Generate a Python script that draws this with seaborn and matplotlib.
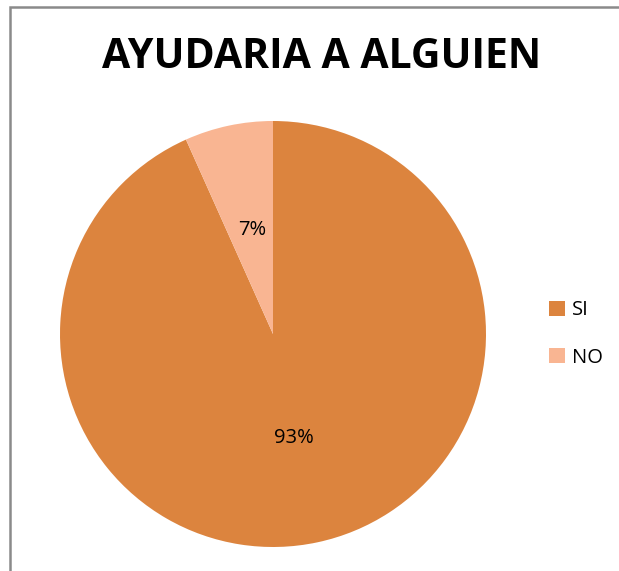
import matplotlib
matplotlib.use("Agg")
import matplotlib.pyplot as plt
from matplotlib.patches import Rectangle
import seaborn as sns

sns.set_theme(style="white")
plt.rcParams["font.family"] = ["Open Sans", "DejaVu Sans"]

labels = ["SI", "NO"]
values = [93.3, 6.7]
pct_labels = ["93%", "7%"]
colors = ["#DC843E", "#F9B592"]

fig = plt.figure(figsize=(6.19, 5.71), dpi=100)
fig.patch.set_facecolor("white")

# outer chart border (right/bottom edges fall outside the image)
fig.patches.append(Rectangle((10 / 619, -0.05), 1.0, 1 - 7 / 571 + 0.05,
                             transform=fig.transFigure, fill=False,
                             edgecolor="#8a8a8a", linewidth=1.8))

ax = fig.add_axes([60 / 619, 24 / 571, 426 / 619, 426 / 571])
wedges, texts = ax.pie(values, colors=colors, startangle=90, counterclock=False,
                       wedgeprops=dict(linewidth=0))
ax.set_xlim(-1, 1)
ax.set_ylim(-1, 1)
ax.set_aspect("equal")

ax.text(-0.10, 0.49, pct_labels[1], ha="center", va="center", fontsize=14.5, color="black")
ax.text(0.10, -0.49, pct_labels[0], ha="center", va="center", fontsize=14.5, color="black")

fig.text(322 / 619, 1 - 58 / 571, "AYUDARIA A ALGUIEN", ha="center", va="center",
         fontsize=29.5, fontweight="bold", color="black")

leg = fig.legend(wedges, labels, loc="center left", bbox_to_anchor=(531 / 619, 1 - 334 / 571),
                 frameon=False, fontsize=14.5, handlelength=0.8, handleheight=0.8,
                 handletextpad=0.35, labelspacing=1.35, labelcolor="black")

fig.savefig("out.png", dpi=100)
